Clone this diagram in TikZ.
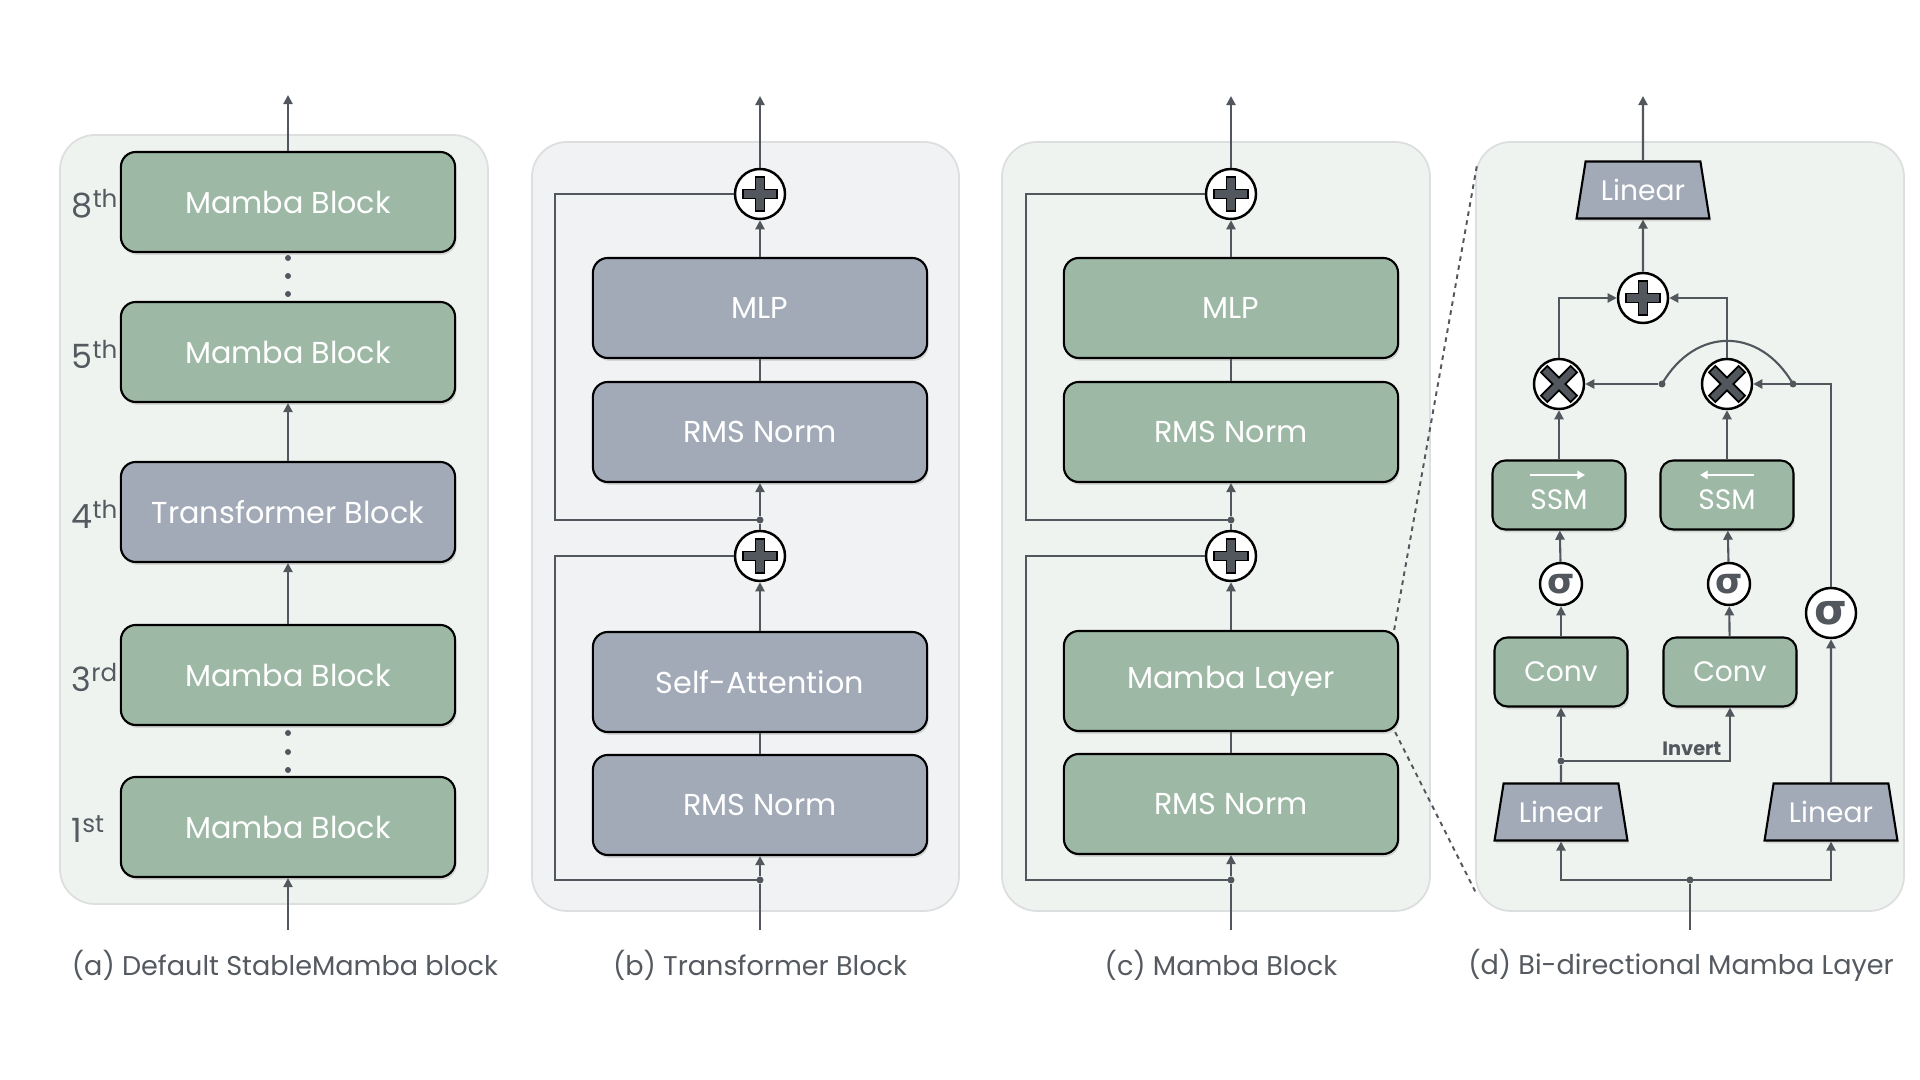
\documentclass[tikz,border=0pt]{standalone}
\usepackage{fontspec}
\setmainfont{Poppins}
\newfontfamily\sigfont{DejaVu Sans}
\usepackage{tikz}
\usetikzlibrary{arrows.meta,shapes.geometric,shadows,calc}
\definecolor{wire}{HTML}{52575E}
\definecolor{mgreen}{HTML}{9DB8A5}
\definecolor{mblue}{HTML}{A2AAB8}
\definecolor{bggreen}{HTML}{EFF3F0}
\definecolor{bggray}{HTML}{F1F2F4}
\definecolor{rim}{HTML}{DCDEDF}
\definecolor{inktext}{HTML}{555A61}
\tikzset{
  panel/.style={draw=rim, fill=#1, line width=0.5pt, rounded corners=0.35cm},
  blk/.style={draw=black, fill=#1, rounded corners=0.15cm, line width=0.6pt, text=white,
    minimum width=3.34cm, minimum height=1cm, font=\fontsize{8.6}{10}\selectfont,
    drop shadow={shadow xshift=0.4pt, shadow yshift=-0.8pt, opacity=0.25}},
  sblk/.style={blk=#1, rounded corners=0.13cm, minimum width=1.33cm, minimum height=0.69cm,
    font=\fontsize{8}{10}\selectfont},
  lin/.style={trapezium, trapezium angle=73, trapezium stretches=true, draw=black, fill=mblue,
    line width=0.6pt, text=white, minimum width=1.33cm, minimum height=0.57cm, inner sep=0pt,
    font=\fontsize{8}{10}\selectfont,
    drop shadow={shadow xshift=0.4pt, shadow yshift=-0.8pt, opacity=0.25}},
  op/.style={circle, draw=black, fill=white, line width=0.7pt, minimum size=0.5cm, inner sep=0pt},
  sig/.style={op, minimum size=0.42cm, text=wire, font=\sigfont\bfseries\fontsize{10}{12}\selectfont},
  dot/.style={circle, fill=wire, inner sep=0pt, minimum size=0.07cm},
  flow/.style={draw=wire, line width=0.6pt, -{Triangle[length=2.6pt,width=2.6pt]}},
  link/.style={draw=wire, line width=0.6pt},
  zoomln/.style={draw=wire, line width=0.55pt, dash pattern=on 1.3pt off 1.3pt},
  ord/.style={text=inktext, anchor=west, inner sep=0pt, font=\fontsize{9.5}{11}\selectfont},
  capt/.style={text=inktext, font=\fontsize{7.7}{9}\selectfont},
  ssmtxt/.style={text=white, font=\fontsize{8}{10}\selectfont}
}
\newcommand\ordsup[1]{\raisebox{0.3em}{\fontsize{7}{8}\selectfont #1}}
% plus / times glyph inside an op node
\newcommand\opglyph[3]{%
  \begin{scope}[shift={(#1.center)}, rotate=#2]
    \filldraw[fill=wire, draw=black, line width=0.5pt] (-#3,-4.5) -- (-4.5,-4.5) -- (-4.5,-#3)
      -- (4.5,-#3) -- (4.5,-4.5) -- (#3,-4.5) -- (#3,4.5) -- (4.5,4.5) -- (4.5,#3)
      -- (-4.5,#3) -- (-4.5,4.5) -- (-#3,4.5) -- cycle;
  \end{scope}}

\begin{document}
\begin{tikzpicture}[x=0.01cm, y=-0.01cm]
  \fill[white] (0,0) rectangle (1920,1080);
  \useasboundingbox (0,0) rectangle (1920,1080);

  % panels
  \draw[panel=bggreen] (60,135) rectangle (488,904);
  \draw[panel=bggray] (532,142) rectangle (959,911);
  \draw[panel=bggreen] (1002,142) rectangle (1430,911);
  \draw[panel=bggreen] (1476,142) rectangle (1904,911);

  % (a) default stack
  \node[blk=mgreen] (m8) at (288,202) {Mamba Block};
  \node[blk=mgreen] (m5) at (288,352) {Mamba Block};
  \node[blk=mblue] (tb) at (288,512) {Transformer Block};
  \node[blk=mgreen] (m3) at (288,675) {Mamba Block};
  \node[blk=mgreen] (m1) at (288,827) {Mamba Block};
  \node[ord] (o8) at (71,204) {8\ordsup{th}};
  \node[ord] (o5) at (71,354) {5\ordsup{th}};
  \node[ord] (o4) at (71,514) {4\ordsup{th}};
  \node[ord] (o3) at (71,677) {3\ordsup{rd}};
  \node[ord] (o1) at (71,829) {1\ordsup{st}};
  \foreach \y in {258,276,294,733,752,770}
    \fill[wire] (288,\y) circle (0.03cm);
  \coordinate (aout) at (288,95);
  \coordinate (ain) at (288,930);
  \draw[flow] (m8) -- (aout);
  \draw[flow] (tb) -- (m5);
  \draw[flow] (m3) -- (tb);
  \draw[flow] (ain) -- (m1);
  \node[capt] (capa) at (285,965) {(a) Default StableMamba block};

  % (b) transformer block
  \node[op] (pb2) at (760,194) {};
  \node[blk=mblue] (mlpb) at (760,308) {MLP};
  \node[blk=mblue] (rmsb2) at (760,432) {RMS Norm};
  \node[dot] (jb2) at (760,520) {};
  \node[op] (pb1) at (760,556) {};
  \node[blk=mblue] (attb) at (760,682) {Self-Attention};
  \node[blk=mblue] (rmsb1) at (760,805) {RMS Norm};
  \node[dot] (jb1) at (760,880) {};
  \coordinate (inb) at (760,930);
  \coordinate (outb) at (760,96);
  \draw[link] (inb) -- (jb1);
  \draw[flow] (jb1) -- (rmsb1);
  \draw[link] (rmsb1) -- (attb);
  \draw[flow] (attb) -- (pb1);
  \draw[link] (pb1) -- (jb2);
  \draw[flow] (jb2) -- (rmsb2);
  \draw[link] (rmsb2) -- (mlpb);
  \draw[flow] (mlpb) -- (pb2);
  \draw[flow] (pb2) -- (outb);
  \draw[link] (jb1.center) -- ++(-205,0) |- (pb1.west);
  \draw[link] (jb2.center) -- ++(-205,0) |- (pb2.west);
  \opglyph{pb1}{0}{17}
  \opglyph{pb2}{0}{17}
  \node[capt] (capb) at (760,965) {(b) Transformer Block};

  % (c) mamba block
  \node[op] (pc2) at (1231,194) {};
  \node[blk=mgreen] (mlpc) at (1231,308) {MLP};
  \node[blk=mgreen] (rmsc2) at (1231,432) {RMS Norm};
  \node[dot] (jc2) at (1231,520) {};
  \node[op] (pc1) at (1231,556) {};
  \node[blk=mgreen] (mlc) at (1231,681) {Mamba Layer};
  \node[blk=mgreen] (rmsc1) at (1231,804) {RMS Norm};
  \node[dot] (jc1) at (1231,880) {};
  \coordinate (inc) at (1231,930);
  \coordinate (outc) at (1231,96);
  \draw[link] (inc) -- (jc1);
  \draw[flow] (jc1) -- (rmsc1);
  \draw[link] (rmsc1) -- (mlc);
  \draw[flow] (mlc) -- (pc1);
  \draw[link] (pc1) -- (jc2);
  \draw[flow] (jc2) -- (rmsc2);
  \draw[link] (rmsc2) -- (mlpc);
  \draw[flow] (mlpc) -- (pc2);
  \draw[flow] (pc2) -- (outc);
  \draw[link] (jc1.center) -- ++(-205,0) |- (pc1.west);
  \draw[link] (jc2.center) -- ++(-205,0) |- (pc2.west);
  \opglyph{pc1}{0}{17}
  \opglyph{pc2}{0}{17}
  \node[capt] (capc) at (1221,965) {(c) Mamba Block};

  % zoom lines
  \coordinate (zt) at (1477,165);
  \coordinate (zb) at (1476,893);
  \draw[zoomln] ([xshift=-0.05cm]mlc.north east) -- (zt);
  \draw[zoomln] ([xshift=-0.04cm]mlc.south east) -- (zb);

  % (d) bi-directional layer
  \node[lin] (lintop) at (1643,190) {Linear};
  \node[op] (pd) at (1643,298) {};
  \node[op] (xl) at (1559,384) {};
  \node[op] (xr) at (1727,384) {};
  \node[sblk=mgreen] (ssml) at (1559,495) {};
  \node[sblk=mgreen] (ssmr) at (1727,495) {};
  \node[ssmtxt] (ssmlt) at ([yshift=-0.05cm]ssml.center) {SSM};
  \node[ssmtxt] (ssmrt) at ([yshift=-0.05cm]ssmr.center) {SSM};
  \node[sig] (sgl) at (1561,584) {σ};
  \node[sig] (sgr) at (1729,584) {σ};
  \node[sig, minimum size=0.5cm, font=\sigfont\bfseries\fontsize{12}{14}\selectfont] (sgz) at (1831,613) {σ};
  \node[sblk=mgreen] (convl) at (1561,672) {Conv};
  \node[sblk=mgreen] (convr) at (1730,672) {Conv};
  \node[lin] (linl) at (1561,812) {Linear};
  \node[lin] (linr) at (1831,812) {Linear};
  \node[dot] (jinv) at (1561,761) {};
  \node[dot] (jin) at (1690,880) {};
  \node[dot] (da) at (1662,384) {};
  \node[dot] (db) at (1793,384) {};
  \coordinate (ind) at (1690,930);
  \coordinate (outd) at (1643,96);
  \draw[white, line width=0.6pt, -{Triangle[length=2.2pt,width=2.4pt]}]
    ([xshift=-0.29cm, yshift=0.2cm]ssml.center) -- ([xshift=0.26cm, yshift=0.2cm]ssml.center);
  \draw[white, line width=0.6pt, -{Triangle[length=2.2pt,width=2.4pt]}]
    ([xshift=0.27cm, yshift=0.2cm]ssmr.center) -- ([xshift=-0.27cm, yshift=0.2cm]ssmr.center);

  \draw[link] (ind) -- (jin);
  \draw[flow] (jin.center) -| (linl.south);
  \draw[flow] (jin.center) -| (linr.south);
  \draw[link] (linl) -- (jinv);
  \draw[flow] (jinv) -- (convl);
  \draw[flow] (jinv.center) -| (convr.south);
  \node[text=wire, font=\fontsize{5.5}{6}\selectfont\bfseries, anchor=east, inner sep=0pt] (inv) at (1722,749) {Invert};
  \draw[flow] (convl) -- (sgl);
  \draw[flow] (convr) -- (sgr);
  \draw[flow] (sgl) -- (ssml);
  \draw[flow] (sgr) -- (ssmr);
  \draw[flow] (ssml) -- (xl);
  \draw[flow] (ssmr) -- (xr);
  \draw[flow] (linr) -- (sgz);
  \draw[flow] (sgz.north) |- (xr.east);
  \draw[flow] (da) -- (xl);
  \draw[link] (da.center) to[out=60, in=120, looseness=1.3] (db.center);
  \draw[flow] (xl.north) |- (pd.west);
  \draw[flow] (xr.north) |- (pd.east);
  \draw[flow] (pd) -- (lintop);
  \draw[flow] (lintop) -- (outd);
  \opglyph{pd}{0}{17}
  \opglyph{xl}{45}{21}
  \opglyph{xr}{45}{21}
  \node[capt] (capd) at (1681,965) {(d) Bi-directional Mamba Layer};
\end{tikzpicture}
\end{document}
